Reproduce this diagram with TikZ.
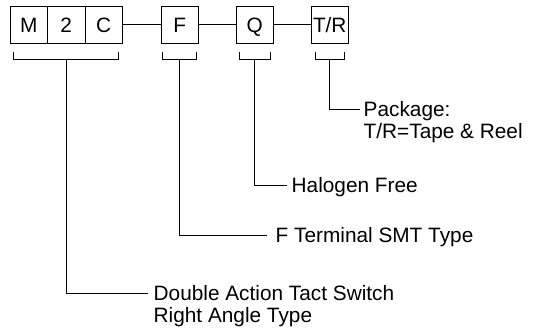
\documentclass[tikz,border=0pt]{standalone}
\usepackage{fontspec}
\setmainfont{Liberation Sans}
\usetikzlibrary{calc}
\tikzset{
  code/.style={draw, line width=1pt, minimum width=37.5pt, minimum height=36.5pt, inner sep=0pt, text height=14.9pt, text depth=0pt},
  lbl/.style={anchor=base west, inner sep=0pt, align=left},
  wire/.style={line width=1pt},
}
\begin{document}
\begin{tikzpicture}[x=1pt, y=-1pt, font=\fontsize{20.8}{22}\selectfont]
\useasboundingbox (0,0) rectangle (534,329);
% code boxes
\node[code] (m)   at (28.75,25) {M};
\node[code] (two) at (66.25,25) {2};
\node[code] (c)   at (103.75,25) {C};
\node[code] (f)   at (179.75,25) {F};
\node[code] (q)   at (254.75,25) {Q};
\node[code] (tr)  at (329.75,25) {T/R};
% connectors between boxes
\draw[wire] (c.east) -- (f.west);
\draw[wire] (f.east) -- (q.west);
\draw[wire] (q.east) -- (tr.west);
% brackets
\draw[wire] ([xshift=4pt,yshift=-8.5pt]m.south west) -- ++(0,7) -| ([xshift=-5pt,yshift=-8.5pt]c.south east);
\draw[wire] ([xshift=2pt,yshift=-8.5pt]f.south west) -- ++(0,7) -| ([xshift=-2.5pt,yshift=-8.5pt]f.south east);
\draw[wire] ([xshift=3.5pt,yshift=-8.5pt]q.south west) -- ++(0,7) -| ([xshift=-3.5pt,yshift=-8.5pt]q.south east);
\draw[wire] ([xshift=4.5pt,yshift=-8.5pt]tr.south west) -- ++(0,7) -| ([xshift=-4.5pt,yshift=-8.5pt]tr.south east);
\coordinate (bM) at ([yshift=-15.5pt]two.south);
\coordinate (bF) at ([yshift=-15.5pt]f.south);
\coordinate (bQ) at ([yshift=-15.5pt]q.south);
\coordinate (bT) at ([yshift=-15.5pt]tr.south);
% labels
\node[lbl] (pkg) at (363.5,116.5) {\begin{tabular}[t]{@{}l@{}}Package:\\T/R=Tape \& Reel\end{tabular}};
\node[lbl] (hal) at (291.5,192.5) {Halogen Free};
\node[lbl] (fts) at (275.5,242.5) {F Terminal SMT Type};
\node[lbl] (dbl) at (153.5,300.5) {\begin{tabular}[t]{@{}l@{}}Double Action Tact Switch\\Right Angle Type\end{tabular}};
% leader lines
\draw[wire] (bT) |- ([xshift=-3.5pt,yshift=7.45pt]pkg.base west);
\draw[wire] (bQ) |- ([xshift=-4.5pt,yshift=7.45pt]hal.base west);
\draw[wire] (bF) |- ([xshift=-8.5pt,yshift=7.45pt]fts.base west);
\draw[wire] (bM) |- ([xshift=-5.5pt,yshift=7.45pt]dbl.base west);
\end{tikzpicture}
\end{document}
